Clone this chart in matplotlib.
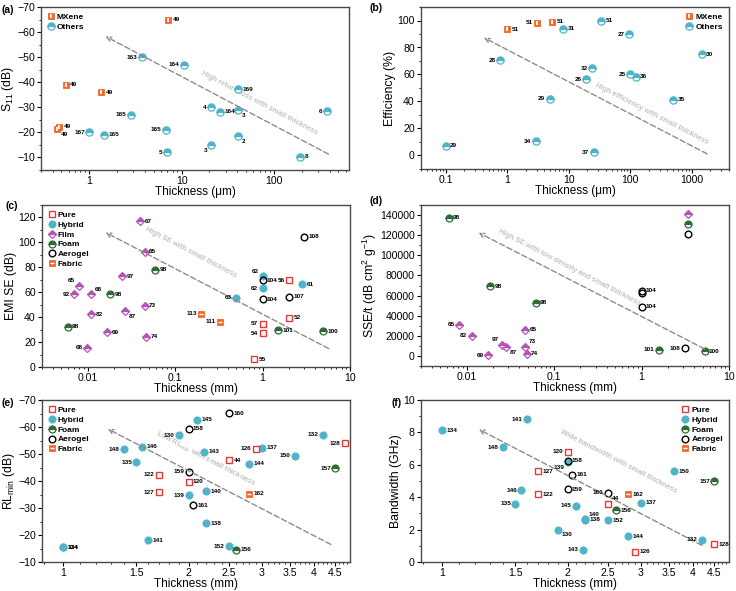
import numpy as np
import matplotlib
matplotlib.use("Agg")
import matplotlib.pyplot as plt
from matplotlib.lines import Line2D
from matplotlib.ticker import FixedLocator, MultipleLocator, FuncFormatter, NullFormatter

plt.rcParams['font.family'] = ['Liberation Sans', 'DejaVu Sans']
plt.rcParams['mathtext.default'] = 'regular'
plt.rcParams['axes.unicode_minus'] = True

# ---------------- data ----------------
# (a) S11 vs thickness (um)
a_mx_x = [7.2, 0.556, 1.35, 0.47, 0.45]
a_mx_y = [-65, -39, -36, -22.3, -21.2]
a_mx_ref = ['49', '49', '49', '49', '49']
a_ot_x = [3.7, 10.5, 41, 21, 26, 41, 377, 2.84, 1.0, 1.46, 6.8, 41, 21, 6.9, 191]
a_ot_y = [-50, -47, -37.3, -30, -28.3, -29, -28.5, -27, -20, -19, -21, -18.5, -15, -12, -10.3]
a_ot_ref = ['163', '164', '169', '4', '164', '3', '6', '165', '167', '165', '165', '2', '3', '5', '8']

# (b) efficiency vs thickness (um)
b_mx_x = [1.0, 3.1, 5.4]
b_mx_y = [93.5, 98.5, 99]
b_mx_ref = ['51', '51', '51']
b_ot_x = [8.05, 33.6, 96, 0.78, 1450, 24, 19, 100, 123, 4.9, 493, 0.1, 2.94, 25.6]
b_ot_y = [94, 100, 90, 70.5, 75, 64.5, 56.6, 60, 58.3, 42, 41.4, 7.4, 10.7, 2.5]
b_ot_ref = ['31', '51', '27', '28', '30', '32', '26', '25', '36', '29', '35', '29', '34', '37']

# (c) EMI SE vs thickness (mm)
c_pure_x = [2.0, 2.0, 1.0, 1.0, 0.8]
c_pure_y = [69.5, 39.5, 34.9, 27.1, 6.4]
c_pure_ref = ['56', '52', '57', '54', '55']
c_hyb_x = [1.0, 1.0, 0.5, 2.83]
c_hyb_y = [72.8, 63.1, 55.6, 66.6]
c_hyb_ref = ['62', '62', '63', '61']
c_film_x = [0.040, 0.0448, 0.0248, 0.0079, 0.0070, 0.0109, 0.0109, 0.0269, 0.0448, 0.0167, 0.0468, 0.0098]
c_film_y = [116.8, 92.3, 73.0, 65.2, 58.3, 58.3, 42.3, 45.0, 49.0, 27.9, 24.4, 15.3]
c_film_ref = ['67', '65', '97', '65', '92', '68', '82', '87', '73', '69', '74', '68']
c_foam_x = [0.0594, 0.018, 0.0059, 1.5, 4.94]
c_foam_y = [77.9, 58.3, 32.2, 29.5, 28.7]
c_foam_ref = ['98', '98', '98', '101', '100']
c_aer_x = [1.0, 1.0, 2.0, 3.01]
c_aer_y = [69.8, 54.5, 56.4, 104.4]
c_aer_ref = ['104', '104', '107', '108']
c_fab_x = [0.199, 0.329]
c_fab_y = [42.8, 36.2]
c_fab_ref = ['113', '111']

# (d) SSE/t vs thickness (mm)
d_film_x = [0.0082, 0.0114, 0.0255, 0.0283, 0.0177, 0.0465, 0.0465, 0.0485, 3.4]
d_film_y = [30800, 19900, 10900, 8600, 660, 26200, 9300, 2300, 141400]
d_film_ref = ['65', '82', '97', '87', '69', '65', '73', '74', '']
d_foam_x = [0.0062, 0.0185, 0.0615, 1.57, 5.25, 3.4]
d_foam_y = [137400, 69500, 53000, 6000, 4600, 131000]
d_foam_ref = ['98', '98', '98', '101', '100', '']
d_aer_x = [1.0, 1.0, 1.0, 3.12, 3.4]
d_aer_y = [65000, 63000, 49000, 7600, 121500]
d_aer_ref = ['104', '', '104', '108', '']

# (e) RLmin vs thickness (mm)
e_pure_x = [1.70, 1.70, 2.0, 2.5, 2.9, 4.75]
e_pure_y = [-42.3, -35.8, -39.7, -47.7, -52.0, -53.9]
e_pure_ref = ['122', '127', '120', '44', '126', '128']
e_hyb_x = [1.0, 1.0, 1.40, 1.55, 1.50, 1.60, 1.90, 2.10, 2.18, 2.0, 2.20, 2.20, 2.50, 3.0, 2.80, 3.60, 4.20]
e_hyb_y = [-15.5, -15.5, -51.8, -52.7, -46.9, -18.0, -57.0, -62.7, -50.8, -34.7, -36.2, -24.4, -15.9, -52.4, -46.3, -49.3, -57.1]
e_hyb_ref = ['134', '124', '148', '146', '135', '141', '130', '145', '143', '139', '140', '138', '152', '137', '144', '150', '132']
e_aer_x = [2.5, 2.0, 2.0, 2.05]
e_aer_y = [-65.1, -59.3, -43.4, -31.1]
e_aer_ref = ['160', '158', '159', '161']
e_foam_x = [2.6, 4.5]
e_foam_y = [-14.6, -44.8]
e_foam_ref = ['156', '157']
e_fab_x = [2.8]
e_fab_y = [-35.2]
e_fab_ref = ['162']

# (f) bandwidth vs thickness (mm)
f_pure_x = [2.0, 1.70, 1.70, 2.5, 2.9, 4.5]
f_pure_y = [6.8, 5.6, 4.19, 3.59, 0.64, 1.09]
f_pure_ref = ['120', '127', '122', '44', '126', '128']
f_hyb_x = [2.0, 1.60, 1.0, 1.40, 1.55, 1.50, 2.10, 2.20, 2.20, 1.90, 2.18, 2.50, 2.80, 3.0, 3.60, 4.2]
f_hyb_y = [6.2, 8.8, 8.14, 7.09, 4.43, 3.59, 3.46, 2.65, 2.6, 2.0, 0.76, 2.58, 1.59, 3.67, 5.6, 1.38]
f_hyb_ref = ['139', '141', '134', '148', '146', '135', '145', '138', '140', '130', '143', '152', '144', '137', '150', '132']
f_aer_x = [2.0, 2.05, 2.0, 2.5]
f_aer_y = [6.25, 5.4, 4.49, 4.29]
f_aer_ref = ['158', '161', '159', '160']
f_foam_x = [2.61, 4.5]
f_foam_y = [3.2, 4.99]
f_foam_ref = ['156', '157']
f_fab_x = [2.8]
f_fab_y = [4.19]
f_fab_ref = ['162']

# label side codes (layout): r right, l left, d below-right, D below-left, u above-left, U above-right
a_mx_side = 'rrrrd'
a_ot_side = 'llrlrdlllrldDlr'
b_mx_side = 'rlr'
b_ot_side = 'rrllrlllrlrrll'
c_pure_side = 'lrllr'
c_hyb_side = 'ullr'
c_film_side = 'rrrulUrdrrrl'
c_foam_side = 'rrrrr'
c_aer_side = 'rrrr'
c_fab_side = 'll'
d_film_side = 'lludlrUrr'
d_foam_side = 'rrrlrr'
d_aer_side = 'rrrlr'
e_pure_side = 'llrrll'
e_hyb_side = 'rrlrlrlrrlrrlrrll'
e_aer_side = 'rrlr'
e_foam_side = 'rl'
e_fab_side = 'r'
f_pure_side = 'lrrUrr'
f_hyb_side = 'DlrllllrUdlrrrrl'
f_aer_side = 'rrrl'
f_foam_side = 'rl'
f_fab_side = 'r'

# ---------------- styles ----------------
CYAN = '#4FB3C9'
ORANGE = '#EF6A2C'
RED = '#E5383B'
PURPLE = '#B455B6'
GREEN = '#2F6B34'

STY = {
    'mxene': dict(marker='s', ms=4.6, mfc=ORANGE, mec=ORANGE, mew=0.6),
    'others': dict(marker='o', ms=5.2, fillstyle='top', mfc=CYAN, mfcalt='white', mec=CYAN, mew=0.9),
    'pure': dict(marker='s', ms=4.4, mfc='white', mec=RED, mew=1.0),
    'hybrid': dict(marker='o', ms=5.2, mfc=CYAN, mec=CYAN, mew=0.6),
    'film': dict(marker='D', ms=3.9, fillstyle='top', mfc=PURPLE, mfcalt='white', mec=PURPLE, mew=0.9),
    'foam': dict(marker='o', ms=5.0, fillstyle='top', mfc=GREEN, mfcalt='white', mec=GREEN, mew=0.9),
    'aerogel': dict(marker='o', ms=4.8, mfc='none', mec='black', mew=1.0),
    'fabric': dict(marker='s', ms=4.6, mfc=ORANGE, mec=ORANGE, mew=0.6),
}
OVER = {
    'mxene': dict(marker='|', ms=3.2, mec='white', mew=1.3),
    'fabric': dict(marker='_', ms=3.4, mec='white', mew=1.0),
}
OFF = {
    'r': ((3.2, 0), 'left', 'center'),
    'l': ((-3.2, 0), 'right', 'center'),
    'd': ((2.5, -3.8), 'left', 'center'),
    'D': ((-2.5, -4.2), 'right', 'center'),
    'u': ((-2.5, 3.8), 'right', 'center'),
    'U': ((2.5, 3.8), 'left', 'center'),
}


def draw(ax, kind, xs, ys, refs, sides, z=3):
    ax.plot(xs, ys, ls='none', zorder=z, **STY[kind])
    if kind in OVER:
        ax.plot(xs, ys, ls='none', zorder=z + 0.1, **OVER[kind])
    for x, y, r, s in zip(xs, ys, refs, sides):
        if not r:
            continue
        off, ha, va = OFF[s]
        ax.annotate(r, (x, y), xytext=off, textcoords='offset points',
                    fontsize=4.6, fontweight='bold', ha=ha, va=va, zorder=6)


def handle(kind):
    h = Line2D([], [], ls='none', **STY[kind])
    if kind in OVER:
        return (h, Line2D([], [], ls='none', **OVER[kind]))
    return h


def legend(ax, kinds, names, loc):
    ax.legend([handle(k) for k in kinds], names, loc=loc, frameon=False,
              prop=dict(size=6, weight='bold'), handlelength=0.9,
              handletextpad=0.3, labelspacing=0.25, borderaxespad=0.3)


def trend(ax, tail, head, text, tpos, rot):
    ax.annotate('', xy=head, xytext=tail,
                arrowprops=dict(arrowstyle='->', color='#8C8C8C', lw=1.0,
                                ls=(0, (4, 2)), shrinkA=0, shrinkB=0,
                                mutation_scale=8))
    ax.text(tpos[0], tpos[1], text, rotation=rot, rotation_mode='anchor',
            ha='center', va='center', fontsize=5.3, fontweight='bold',
            color='#C4C4C4', zorder=2)


def style(ax, xlab, ylab):
    for sp in ax.spines.values():
        sp.set_color('#4A4A4A')
        sp.set_linewidth(1.0)
    ax.tick_params(which='both', direction='out', top=False, right=False,
                   labelsize=7.6, colors='black', pad=1.5)
    ax.tick_params(which='major', length=3, width=0.8)
    ax.tick_params(which='minor', length=1.6, width=0.6)
    ax.set_xlabel(xlab, fontsize=8.5, labelpad=0)
    ax.set_ylabel(ylab, fontsize=8.8, labelpad=1)


gfmt = FuncFormatter(lambda v, p: '%g' % v)

fig = plt.figure(figsize=(7.36, 5.91), dpi=100)
W = 308 / 736
axa = fig.add_axes([41 / 736, 1 - 170 / 591, W, 163 / 591])
axb = fig.add_axes([421 / 736, 1 - 169 / 591, W, 162 / 591])
axc = fig.add_axes([42 / 736, 1 - 367 / 591, W, 162 / 591])
axd = fig.add_axes([421 / 736, 1 - 366 / 591, W, 161 / 591])
axe = fig.add_axes([42 / 736, 1 - 562 / 591, W, 162 / 591])
axf = fig.add_axes([421 / 736, 1 - 562 / 591, W, 162 / 591])

# ---- (a)
ax = axa
ax.set_xscale('log')
draw(ax, 'others', a_ot_x, a_ot_y, a_ot_ref, a_ot_side)
draw(ax, 'mxene', a_mx_x, a_mx_y, a_mx_ref, a_mx_side, z=4)
ax.set_xlim(0.3, 650)
ax.set_ylim(-5, -70)
ax.yaxis.set_major_locator(FixedLocator(np.arange(-70, -9, 10)))
ax.yaxis.set_minor_locator(MultipleLocator(5))
ax.xaxis.set_major_formatter(gfmt)
style(ax, 'Thickness (\u03bcm)', 'S$_{11}$ (dB)')
legend(ax, ['mxene', 'others'], ['MXene', 'Others'], 'upper left')
trend(ax, (390, -11.3), (1.5, -58.3), 'High return loss with small thickness', (70, -31.5), -27.6)

# ---- (b)
ax = axb
ax.set_xscale('log')
draw(ax, 'others', b_ot_x, b_ot_y, b_ot_ref, b_ot_side)
draw(ax, 'mxene', b_mx_x, b_mx_y, b_mx_ref, b_mx_side, z=4)
ax.set_xlim(0.04, 4000)
ax.set_ylim(-10, 110)
ax.yaxis.set_major_locator(FixedLocator(np.arange(0, 101, 20)))
ax.yaxis.set_minor_locator(MultipleLocator(10))
ax.xaxis.set_major_formatter(gfmt)
style(ax, 'Thickness (\u03bcm)', 'Efficiency (%)')
legend(ax, ['mxene', 'others'], ['MXene', 'Others'], 'upper right')
trend(ax, (1770, 1.2), (0.42, 87.3), 'High efficiency with small thickness', (220, 31), -27.3)

# ---- (c)
ax = axc
ax.set_xscale('log')
draw(ax, 'hybrid', c_hyb_x, c_hyb_y, c_hyb_ref, c_hyb_side)
draw(ax, 'film', c_film_x, c_film_y, c_film_ref, c_film_side)
draw(ax, 'foam', c_foam_x, c_foam_y, c_foam_ref, c_foam_side)
draw(ax, 'aerogel', c_aer_x, c_aer_y, c_aer_ref, c_aer_side, z=4)
draw(ax, 'fabric', c_fab_x, c_fab_y, c_fab_ref, c_fab_side)
draw(ax, 'pure', c_pure_x, c_pure_y, c_pure_ref, c_pure_side, z=4)
ax.set_xlim(0.003, 10)
ax.set_ylim(0, 130)
ax.yaxis.set_major_locator(FixedLocator(np.arange(0, 121, 20)))
ax.yaxis.set_minor_locator(MultipleLocator(10))
ax.xaxis.set_major_formatter(gfmt)
style(ax, 'Thickness (mm)', 'EMI SE (dB)')
legend(ax, ['pure', 'hybrid', 'film', 'foam', 'aerogel', 'fabric'],
       ['Pure', 'Hybrid', 'Film', 'Foam', 'Aerogel', 'Fabric'], 'upper left')
trend(ax, (5.7, 14.8), (0.016, 108), 'High SE with small thickness', (0.15, 92), -27.5)

# ---- (d)
ax = axd
ax.set_xscale('log')
draw(ax, 'film', d_film_x, d_film_y, d_film_ref, d_film_side)
draw(ax, 'foam', d_foam_x, d_foam_y, d_foam_ref, d_foam_side)
draw(ax, 'aerogel', d_aer_x, d_aer_y, d_aer_ref, d_aer_side, z=4)
ax.set_xlim(0.003, 10)
ax.set_ylim(-10000, 150000)
ax.yaxis.set_major_locator(FixedLocator(np.arange(0, 140001, 20000)))
ax.yaxis.set_minor_locator(MultipleLocator(10000))
ax.yaxis.set_major_formatter(FuncFormatter(lambda v, p: '%d' % v))
ax.xaxis.set_major_formatter(gfmt)
style(ax, 'Thickness (mm)', 'SSE/t (dB cm$^2$ g$^{-1}$)')
trend(ax, (5.25, 7000), (0.0137, 122500), 'High SE with low density and small thickness',
      (0.15, 88000), -27.4)

# ---- (e)
ax = axe
ax.set_xscale('log')
draw(ax, 'hybrid', e_hyb_x, e_hyb_y, e_hyb_ref, e_hyb_side)
draw(ax, 'aerogel', e_aer_x, e_aer_y, e_aer_ref, e_aer_side)
draw(ax, 'foam', e_foam_x, e_foam_y, e_foam_ref, e_foam_side)
draw(ax, 'fabric', e_fab_x, e_fab_y, e_fab_ref, e_fab_side)
draw(ax, 'pure', e_pure_x, e_pure_y, e_pure_ref, e_pure_side, z=4)
ax.set_xlim(0.89, 4.88)
ax.set_ylim(-10, -70)
ax.yaxis.set_major_locator(FixedLocator(np.arange(-70, -9, 10)))
ax.yaxis.set_minor_locator(MultipleLocator(5))
style(ax, 'Thickness (mm)', 'RL$_{min}$ (dB)')
legend(ax, ['pure', 'hybrid', 'foam', 'aerogel', 'fabric'],
       ['Pure', 'Hybrid', 'Foam', 'Aerogel', 'Fabric'], 'upper left')
trend(ax, (4.39, -16.5), (1.28, -59.3), 'Low RL$_{min}$ with small thickness', (2.2, -48), -27.5)

# ---- (f)
ax = axf
ax.set_xscale('log')
draw(ax, 'hybrid', f_hyb_x, f_hyb_y, f_hyb_ref, f_hyb_side)
draw(ax, 'aerogel', f_aer_x, f_aer_y, f_aer_ref, f_aer_side)
draw(ax, 'foam', f_foam_x, f_foam_y, f_foam_ref, f_foam_side)
draw(ax, 'fabric', f_fab_x, f_fab_y, f_fab_ref, f_fab_side)
draw(ax, 'pure', f_pure_x, f_pure_y, f_pure_ref, f_pure_side, z=4)
ax.set_xlim(0.89, 4.88)
ax.set_ylim(0, 10)
ax.yaxis.set_major_locator(FixedLocator(np.arange(0, 11, 2)))
ax.yaxis.set_minor_locator(MultipleLocator(1))
style(ax, 'Thickness (mm)', 'Bandwidth (GHz)')
legend(ax, ['pure', 'hybrid', 'foam', 'aerogel', 'fabric'],
       ['Pure', 'Hybrid', 'Foam', 'Aerogel', 'Fabric'], 'upper right')
trend(ax, (4.2, 1.03), (1.225, 8.19), 'Wide bandwidth with small thickness', (2.65, 6.2), -27.4)

xt = [1, 1.5, 2, 2.5, 3, 3.5, 4, 4.5]
for ax in (axe, axf):
    ax.xaxis.set_major_locator(FixedLocator(xt))
    ax.xaxis.set_minor_locator(FixedLocator(np.arange(0.9, 4.85, 0.1)))
    ax.xaxis.set_major_formatter(gfmt)
    ax.xaxis.set_minor_formatter(NullFormatter())

for lab, (px, py) in zip(['(a)', '(b)', '(c)', '(d)', '(e)', '(f)'],
                         [(1, 10), (370, 8), (5, 206), (370, 201), (1, 403), (391, 403)]):
    fig.text(px / 736, 1 - py / 591, lab, fontsize=7.5, fontweight='bold', ha='left', va='center')

fig.savefig('out.png', dpi=100)
